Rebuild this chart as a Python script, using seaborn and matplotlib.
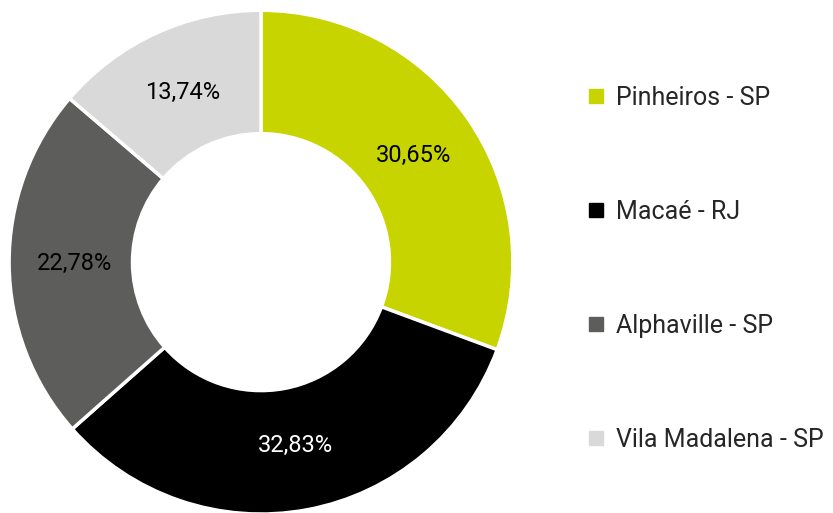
import matplotlib
matplotlib.use("Agg")
import matplotlib.pyplot as plt
import seaborn as sns
from matplotlib.lines import Line2D

# data
labels = ["Pinheiros - SP", "Macaé - RJ", "Alphaville - SP", "Vila Madalena - SP"]
values = [30.65, 32.83, 22.78, 13.74]
colors = ["#c8d400", "#000000", "#5d5d5b", "#d9d9d9"]
text_colors = ["#000000", "#ffffff", "#000000", "#000000"]

sns.set_theme(style="white")
plt.rcParams["font.family"] = ["Roboto", "DejaVu Sans"]

fig = plt.figure(figsize=(8.33, 5.13), dpi=100)
ax = fig.add_axes([0.0108, -0.002, 0.605, 0.982])

wedges, texts, autotexts = ax.pie(
    values, colors=colors, startangle=90, counterclock=False,
    autopct=lambda p: f"{p:.2f}%".replace(".", ","), pctdistance=0.74,
    wedgeprops=dict(width=0.49, edgecolor="white", linewidth=2.5),
    textprops=dict(fontsize=17))
for t, c in zip(autotexts, text_colors):
    t.set_color(c)
ax.set_xlim(-1, 1)
ax.set_ylim(-1, 1)

handles = [Line2D([0], [0], marker="s", linestyle="", markersize=10,
                  markerfacecolor=c, markeredgecolor=c) for c in colors]
fig.legend(handles, labels, loc="center left", bbox_to_anchor=(0.673, 0.476),
           frameon=False, fontsize=18, labelspacing=3.6, handletextpad=0.3,
           handlelength=1.0)

fig.savefig("out.png", dpi=100)
